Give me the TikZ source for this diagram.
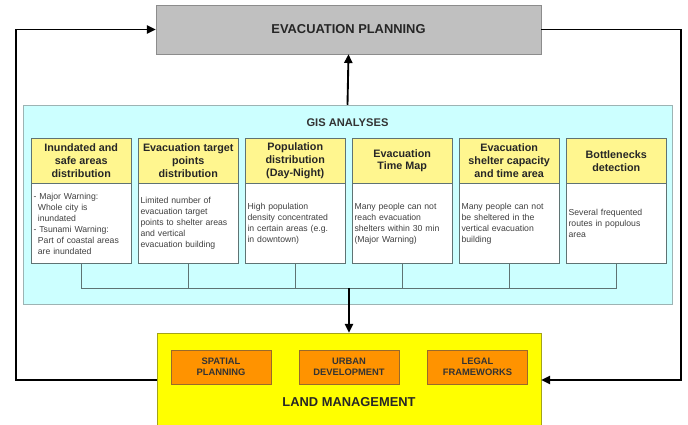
\documentclass[tikz,border=0pt]{standalone}
\usepackage{fontspec}
\setmainfont{Liberation Sans}
\usetikzlibrary{positioning,arrows.meta}

\definecolor{planGray}{HTML}{C0C0C0}
\definecolor{planEdge}{HTML}{8C8C8C}
\definecolor{gisCyan}{HTML}{CCFFFF}
\definecolor{gisEdge}{HTML}{9DB3B3}
\definecolor{headYellow}{HTML}{FFF68F}
\definecolor{colEdge}{HTML}{5F7373}
\definecolor{landYellow}{HTML}{FFFF00}
\definecolor{landEdge}{HTML}{A3A31A}
\definecolor{toolOrange}{HTML}{FF9300}
\definecolor{toolEdge}{HTML}{9A6A2A}

\begin{document}
\begin{tikzpicture}[x=0.03cm, y=-0.03cm,
    plan/.style={draw=planEdge, fill=planGray, minimum width=11.55cm, minimum height=1.47cm,
        font=\fontsize{11}{13}\selectfont\bfseries, text=black!85},
    gis/.style={draw=gisEdge, fill=gisCyan, minimum width=19.47cm, minimum height=5.97cm},
    head/.style={draw=colEdge, fill=headYellow, minimum width=3cm, minimum height=1.35cm,
        anchor=north west, align=center, inner sep=1pt,
        font=\fontsize{9.2}{11}\selectfont\bfseries, text=black!85},
    body/.style={draw=colEdge, fill=white, minimum height=2.4cm, text width=2.86cm,
        inner xsep=0.07cm, align=left, font=\fontsize{7.4}{9.4}\selectfont, text=black!75},
    land/.style={draw=landEdge, fill=landYellow, minimum width=11.52cm, minimum height=2.82cm},
    tool/.style={draw=toolEdge, fill=toolOrange, minimum width=3cm, minimum height=1.02cm,
        align=center, inner sep=1pt, font=\fontsize{8}{9.5}\selectfont\bfseries, text=black!80},
    link/.style={draw=colEdge, line width=0.7pt},
    flow/.style={line width=1.6pt, -{Triangle[length=7.5pt,width=7pt]}}]
    \useasboundingbox (0,0) rectangle (688,425);

    % top and bottom blocks
    \node[plan] (plan) at (348.5,29.5) {EVACUATION PLANNING};
    \node[land] (land) at (349,380) {};
    \node[font=\fontsize{11}{13}\selectfont\bfseries, text=black!85] (landtitle) at (349,402) {LAND MANAGEMENT};
    \node[tool] (t1) at (221,367) {SPATIAL\\PLANNING};
    \node[tool] (t2) at (349,367) {URBAN\\DEVELOPMENT};
    \node[tool] (t3) at (477.5,367) {LEGAL\\FRAMEWORKS};

    % GIS block with the six analyses
    \node[gis] (gis) at (347.5,204.5) {};
    \node[font=\fontsize{9.5}{11}\selectfont\bfseries, text=black!80] (gistitle) at (347.5,123) {GIS ANALYSES};

    \foreach \i/\htext/\btext in {
        1/{Inundated and\\safe areas\\distribution}/{- Major Warning:\\\hspace*{0.5em}Whole city is\\\hspace*{0.5em}inundated\\- Tsunami Warning:\\\hspace*{0.5em}Part of coastal areas\\\hspace*{0.5em}are inundated},
        2/{Evacuation target\\points\\distribution}/{Limited number of\\evacuation target\\points to shelter areas\\and vertical\\evacuation building},
        3/{Population\\distribution\\(Day-Night)}/{High population\\density concentrated\\in certain areas (e.g.\\in downtown)},
        4/{Evacuation\\Time Map}/{Many people can not\\reach evacuation\\shelters within 30 min\\(Major Warning)},
        5/{Evacuation\\shelter capacity\\and time area}/{Many people can not\\be sheltered in the\\vertical evacuation\\building},
        6/{Bottlenecks\\detection}/{Several frequented\\routes in populous\\area}}
    {
        \node[head] (h\i) at ({31+107*(\i-1)},138) {\htext};
        \node[body, below=0pt of h\i] (b\i) {\btext};
        \draw[link] (b\i.south) -- ++(0,25);
    }

    \coordinate (bus) at (land.north |- 0,288);
    \coordinate (leftx) at (16,0);
    \coordinate (rightx) at (681,0);
    \draw[link] (b1.south |- bus) -- (b6.south |- bus);

    % arrows
    \draw[flow] (gis.north) -- (plan.south);
    \draw[flow] (bus) -- (land.north);
    \draw[flow] (land.west) -- (land.west -| leftx) |- (plan.west);
    \draw[flow] (plan.east) -- (plan.east -| rightx) |- (land.east);
\end{tikzpicture}
\end{document}
